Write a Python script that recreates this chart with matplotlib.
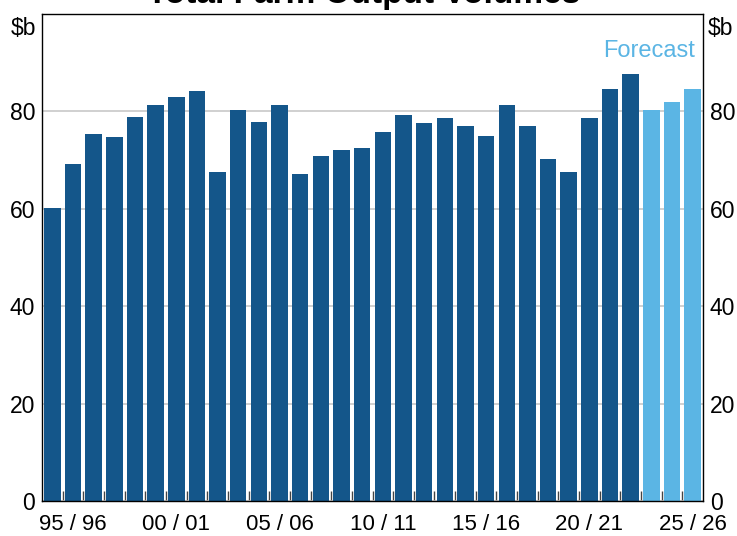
import numpy as np
import matplotlib
matplotlib.use("Agg")
import matplotlib.pyplot as plt
from matplotlib.ticker import FixedLocator

# financial years 94/95 .. 25/26
years = [f"{y % 100:02d} / {(y + 1) % 100:02d}" for y in range(1994, 2026)]
values = [60.2, 69.3, 75.4, 74.8, 78.9, 81.4, 83.0, 84.1, 67.6, 80.2,
          77.9, 81.4, 67.2, 70.9, 72.1, 72.4, 75.8, 79.3, 77.7, 78.7,
          77.1, 75.0, 81.4, 76.9, 70.3, 67.6, 78.7, 84.7, 87.6, 80.2,
          82.0, 84.5]
n_forecast = 3
label_years = ["95 / 96", "00 / 01", "05 / 06", "10 / 11", "15 / 16", "20 / 21", "25 / 26"]

dark = "#14568a"
light = "#5bb5e4"

plt.rcParams['font.family'] = ['Liberation Sans', 'DejaVu Sans']

fig = plt.figure(figsize=(7.37, 5.36), dpi=100)
ax = fig.add_axes([42 / 737, 35 / 536, 661 / 737, 487 / 536])

x = np.arange(len(values))
colors = [dark] * (len(values) - n_forecast) + [light] * n_forecast
ax.bar(x, values, width=0.8, color=colors, zorder=2)

ax.set_xlim(-0.5, len(values) - 0.5)
ax.set_ylim(0, 100)
ax.set_yticks([0, 20, 40, 60, 80])
ax.yaxis.grid(True, color="#c8c8c8", linewidth=1.2, zorder=0)
ax.set_axisbelow(True)

ax.set_xticks([years.index(l) for l in label_years])
ax.set_xticklabels(label_years)
ax.xaxis.set_minor_locator(FixedLocator(np.arange(0.5, len(values) - 1, 1)))
ax.tick_params(axis="x", which="major", length=0, pad=9, labelsize=16)
ax.tick_params(axis="x", which="minor", direction="in", length=7, width=1, color="#444444")
ax.tick_params(axis="y", which="both", length=0, pad=5, labelsize=16.5,
               right=True, labelright=True)

for s in ax.spines.values():
    s.set_linewidth(1)
    s.set_color("black")

ax.text(-0.008, 0.993, "$b", transform=ax.transAxes, ha="right", va="top", fontsize=16.5)
ax.text(1.007, 0.993, "$b", transform=ax.transAxes, ha="left", va="top", fontsize=16.5)
ax.text(0.988, 0.912, "Forecast", transform=ax.transAxes, ha="right", va="baseline",
        fontsize=17, color=light)

fig.text(0.493, 533.5 / 536, "Total Farm Output Volumes", ha="center", va="baseline",
         fontsize=24, fontweight="bold")

fig.savefig("out.png", dpi=100)
